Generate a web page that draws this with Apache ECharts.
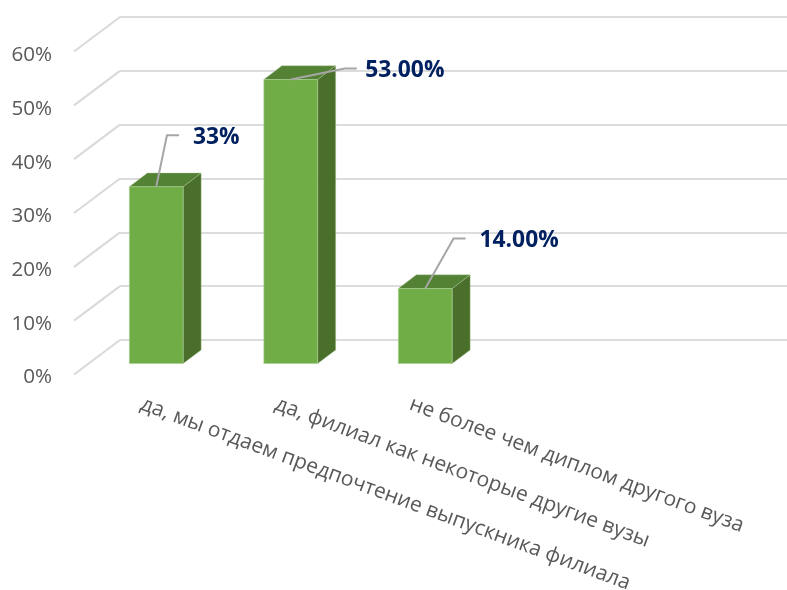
<!DOCTYPE html>
<html>
<head>
<meta charset="utf-8">
<style>
  html, body { margin: 0; padding: 0; background: #fff; }
  #myChart { width: 787px; height: 590px; }
</style>
<script src="https://cdn.jsdelivr.net/npm/echarts@6/dist/echarts.min.js"></script>
</head>
<body>
<div id="myChart"></div>
<script>
const categories = [
    'да, мы отдаем предпочтение выпускника филиала',
    'да, филиал как некоторые другие вузы',
    'не более чем диплом другого вуза'
];
const shares = [33, 53, 14];
const shareLabels = ['33%', '53.00%', '14.00%'];
const gridTicks = [0, 10, 20, 30, 40, 50, 60];

// leader line bend, relative to the top of the bar
const leaderBends = [[10.7, -51.5], [54, -11], [28.3, -50]];
const leaderTails = [12, 12, 12];
const labelGaps = [14, 8.5, 14];

const fontName = '"Open Sans", "Noto Sans", sans-serif';
const barDepthX = 18;
const barDepthY = 13.7;
const wallDepthX = 46;
const wallDepthY = 34.5;

const myChart = echarts.init(document.getElementById('myChart'));

function renderWall(params, api) {
    const p = api.coord([0, api.value(0)]);
    return {
        type: 'line',
        shape: { x1: p[0], y1: p[1], x2: p[0] - wallDepthX, y2: p[1] + wallDepthY },
        style: { stroke: '#d9d9d9', lineWidth: 2, fill: null }
    };
}

function renderBar(params, api) {
    const top = api.coord([api.value(0), api.value(1)]);
    const base = api.coord([api.value(0), 0]);
    const w = api.size([1, 0])[0] * 0.4;
    const l = top[0] - w / 2;
    const r = top[0] + w / 2;
    const dx = barDepthX;
    const dy = barDepthY;
    return {
        type: 'group',
        children: [
            {
                type: 'polygon',
                shape: { points: [[r, top[1]], [r + dx, top[1] - dy], [r + dx, base[1] - dy], [r, base[1]]] },
                style: { fill: '#4a6f2b', stroke: '#a9c596', lineWidth: 0.4 }
            },
            {
                type: 'polygon',
                shape: { points: [[l, top[1]], [l + dx, top[1] - dy], [r + dx, top[1] - dy], [r, top[1]]] },
                style: { fill: '#548235', stroke: '#a9c596', lineWidth: 0.4 }
            },
            {
                type: 'rect',
                shape: { x: l, y: top[1], width: w, height: base[1] - top[1] },
                style: { fill: '#70ad47', stroke: '#a9cf92', lineWidth: 0.6 }
            }
        ]
    };
}

function renderLeader(params, api) {
    const i = params.dataIndex;
    const top = api.coord([api.value(0), api.value(1)]);
    const bx = top[0] + leaderBends[i][0];
    const by = top[1] + leaderBends[i][1];
    const ex = bx + leaderTails[i];
    return {
        type: 'group',
        children: [
            {
                type: 'polyline',
                shape: { points: [[top[0], top[1]], [bx, by], [ex, by]] },
                style: { stroke: '#a6a6a6', lineWidth: 2, fill: null }
            },
            {
                type: 'text',
                x: ex + labelGaps[i],
                y: by + 2,
                style: {
                    text: shareLabels[i],
                    fill: '#002060',
                    font: 'bold 22.8px ' + fontName,
                    align: 'left',
                    verticalAlign: 'middle'
                }
            }
        ]
    };
}

const option = {
    animation: false,
    backgroundColor: '#fff',
    grid: [
        // back wall
        { left: 120, right: -2, top: 17, height: 323, outerBoundsMode: 'none' },
        // front edge, carries the axis labels
        { left: 74, width: 403.5, top: 55.5, height: 322, outerBoundsMode: 'none' },
        // plane of the bars
        { left: 89, width: 403.5, top: 42, height: 321.6, outerBoundsMode: 'none' }
    ],
    xAxis: [
        { gridIndex: 0, type: 'value', show: false, min: 0, max: 1 },
        {
            gridIndex: 1,
            type: 'category',
            data: categories,
            axisLine: { show: false },
            axisTick: { show: false },
            axisLabel: {
                interval: 0,
                rotate: -20.3,
                margin: 26,
                color: '#595959',
                fontFamily: fontName,
                fontSize: 21
            }
        },
        { gridIndex: 2, type: 'category', data: categories, show: false }
    ],
    yAxis: [
        {
            gridIndex: 0,
            type: 'value',
            min: 0,
            max: 60,
            interval: 10,
            axisLine: { show: false },
            axisTick: { show: false },
            axisLabel: { show: false },
            splitLine: { lineStyle: { color: '#dcdcdc', width: 2 } }
        },
        {
            gridIndex: 1,
            type: 'value',
            min: 0,
            max: 60,
            interval: 10,
            axisLine: { show: false },
            axisTick: { show: false },
            splitLine: { show: false },
            axisLabel: {
                margin: 22,
                formatter: '{value}%',
                color: '#595959',
                fontFamily: fontName,
                fontSize: 20.6
            }
        },
        { gridIndex: 2, type: 'value', min: 0, max: 60, interval: 10, show: false }
    ],
    series: [
        {
            type: 'custom',
            xAxisIndex: 0,
            yAxisIndex: 0,
            silent: true,
            renderItem: renderWall,
            encode: { y: 0 },
            data: gridTicks.map(v => [v]),
            z: 1
        },
        {
            type: 'custom',
            xAxisIndex: 2,
            yAxisIndex: 2,
            silent: true,
            renderItem: renderBar,
            encode: { x: 0, y: 1 },
            data: shares.map((v, i) => [i, v]),
            z: 2
        },
        {
            type: 'custom',
            xAxisIndex: 2,
            yAxisIndex: 2,
            silent: true,
            renderItem: renderLeader,
            encode: { x: 0, y: 1 },
            data: shares.map((v, i) => [i, v]),
            z: 3
        }
    ]
};

myChart.setOption(option);
</script>
</body>
</html>
